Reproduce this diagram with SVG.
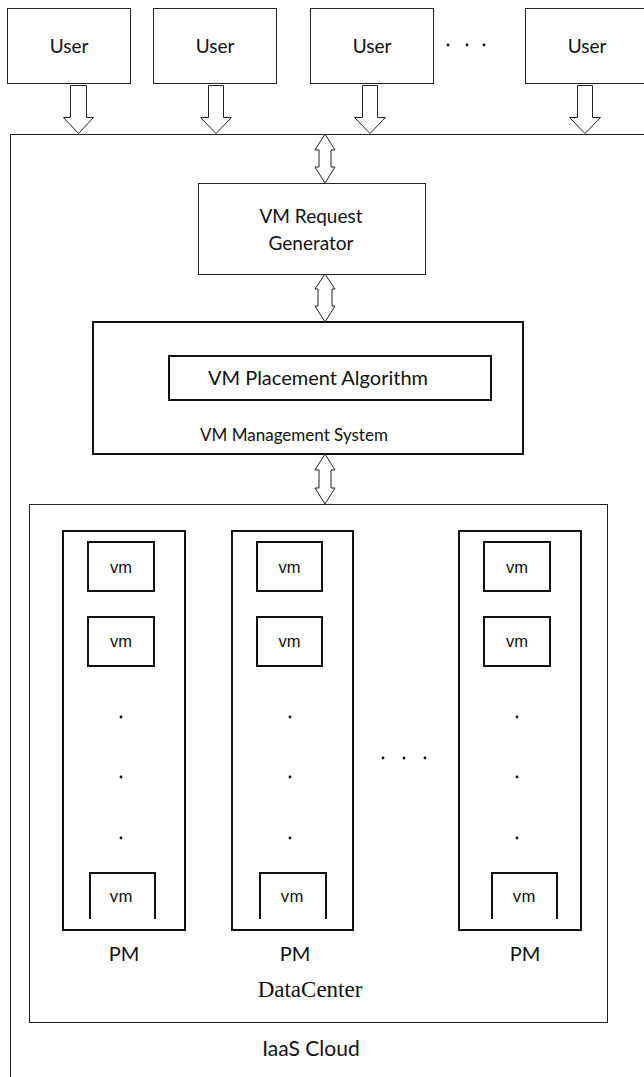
<svg xmlns="http://www.w3.org/2000/svg" width="644" height="1077" viewBox="0 0 644 1077">
<style>
.box{fill:#fff;stroke:#222;stroke-width:1}
.thick{fill:#fff;stroke:#111;stroke-width:2}
.arr{fill:#fff;stroke:#222;stroke-width:1;stroke-linejoin:miter}
.cal{font-family:Lato,"Open Sans",sans-serif;fill:#111;text-anchor:middle}
.ari{font-family:"Liberation Sans",Arial,sans-serif;fill:#111;text-anchor:middle}
.ser{font-family:"Liberation Serif","Times New Roman",serif;fill:#111;text-anchor:middle}
.dot{fill:#111}
</style>
<rect width="644" height="1077" fill="#fff"/>
<g id="iaas-cloud">
<rect class="box" x="10.5" y="134.5" width="650" height="960"/>
<text class="cal" x="311" y="1056" font-size="21">IaaS Cloud</text>
</g>
<g id="user1"><rect class="box" x="7.5" y="8.5" width="123" height="75"/><text class="cal" x="69" y="53" font-size="19">User</text></g>
<g id="user2"><rect class="box" x="153.5" y="8.5" width="123" height="75"/><text class="cal" x="215" y="53" font-size="19">User</text></g>
<g id="user3"><rect class="box" x="310.5" y="8.5" width="123" height="75"/><text class="cal" x="372" y="53" font-size="19">User</text></g>
<g id="user4"><rect class="box" x="525.5" y="8.5" width="123" height="75"/><text class="cal" x="587" y="53" font-size="19">User</text></g>
<g id="user-dots"><circle class="dot" cx="448" cy="45" r="1.4"/><circle class="dot" cx="467" cy="45" r="1.4"/><circle class="dot" cx="484" cy="45" r="1.4"/></g>
<g id="vm-request-generator">
<rect class="box" x="198.5" y="183.5" width="227" height="91"/>
<text class="cal" x="311" y="223" font-size="19">VM Request</text>
<text class="cal" x="311" y="250" font-size="19">Generator</text>
</g>
<g id="vm-management-system">
<rect class="thick" x="93" y="322" width="430" height="132"/>
<text class="cal" x="294" y="441" font-size="17">VM Management System</text>
</g>
<g id="vm-placement-algorithm">
<rect class="thick" x="169" y="356" width="322" height="44"/>
<text class="cal" x="318" y="385" font-size="20">VM Placement Algorithm</text>
</g>
<g id="datacenter">
<rect class="box" x="29.5" y="504.5" width="578" height="518"/>
<text class="ser" x="310" y="997" font-size="23">DataCenter</text>
</g>
<g id="pm1">
<rect class="thick" x="63" y="531" width="122" height="399"/>
<rect class="thick" x="88" y="542" width="66" height="49"/><text class="ari" x="121" y="573" font-size="16.5">vm</text>
<rect class="thick" x="88" y="617" width="66" height="49"/><text class="ari" x="121" y="647" font-size="16.5">vm</text>
<circle class="dot" cx="121" cy="717" r="1.4"/><circle class="dot" cx="121" cy="777" r="1.4"/><circle class="dot" cx="121" cy="838" r="1.4"/>
<polyline fill="none" stroke="#111" stroke-width="2" points="90,919 90,873 155,873 155,919"/>
<text class="cal" x="121" y="902" font-size="17">vm</text>
<text class="cal" x="124" y="961" font-size="20">PM</text>
</g>
<g id="pm2">
<rect class="thick" x="232" y="531" width="121" height="399"/>
<rect class="thick" x="257" y="542" width="65" height="49"/><text class="ari" x="289.5" y="573" font-size="16.5">vm</text>
<rect class="thick" x="257" y="617" width="65" height="49"/><text class="ari" x="289.5" y="647" font-size="16.5">vm</text>
<circle class="dot" cx="290" cy="717" r="1.4"/><circle class="dot" cx="290" cy="777" r="1.4"/><circle class="dot" cx="290" cy="838" r="1.4"/>
<polyline fill="none" stroke="#111" stroke-width="2" points="260,919 260,873 326,873 326,919"/>
<text class="cal" x="292" y="902" font-size="17">vm</text>
<text class="cal" x="295" y="961" font-size="20">PM</text>
</g>
<g id="pm3">
<rect class="thick" x="459" y="531" width="122" height="399"/>
<rect class="thick" x="484" y="542" width="66" height="49"/><text class="ari" x="517" y="573" font-size="16.5">vm</text>
<rect class="thick" x="484" y="617" width="66" height="49"/><text class="ari" x="517" y="647" font-size="16.5">vm</text>
<circle class="dot" cx="517" cy="717" r="1.4"/><circle class="dot" cx="517" cy="777" r="1.4"/><circle class="dot" cx="517" cy="838" r="1.4"/>
<polyline fill="none" stroke="#111" stroke-width="2" points="492,919 492,873 557,873 557,919"/>
<text class="cal" x="524" y="902" font-size="17">vm</text>
<text class="cal" x="525" y="961" font-size="20">PM</text>
</g>
<g id="pm-dots"><circle class="dot" cx="383" cy="758" r="1.4"/><circle class="dot" cx="404" cy="758" r="1.4"/><circle class="dot" cx="425" cy="758" r="1.4"/></g>
<g id="connectors">
<polygon class="arr" points="70.5,85.5 86.5,85.5 86.5,117.5 93.5,117.5 78.5,133.5 63.5,117.5 70.5,117.5"/>
<polygon class="arr" points="208.5,85.5 223.5,85.5 223.5,117.5 231.5,117.5 216,133.5 200.5,117.5 208.5,117.5"/>
<polygon class="arr" points="362.5,85.5 377.5,85.5 377.5,117.5 385.5,117.5 370,133.5 354.5,117.5 362.5,117.5"/>
<polygon class="arr" points="577.5,85.5 592.5,85.5 592.5,117.5 600.5,117.5 585,133.5 569.5,117.5 577.5,117.5"/>
<polygon class="arr" points="325,134 335,150 331,150 331,167 335,167 325,183 315,167 319,167 319,150 315,150"/>
<polygon class="arr" points="325,274 335,289 332,289 332,306 335,306 325,322 315,306 318,306 318,289 315,289"/>
<polygon class="arr" points="325,454 335,470 331,470 331,488 335,488 325,504 315,488 319,488 319,470 315,470"/>
</g>
</svg>
